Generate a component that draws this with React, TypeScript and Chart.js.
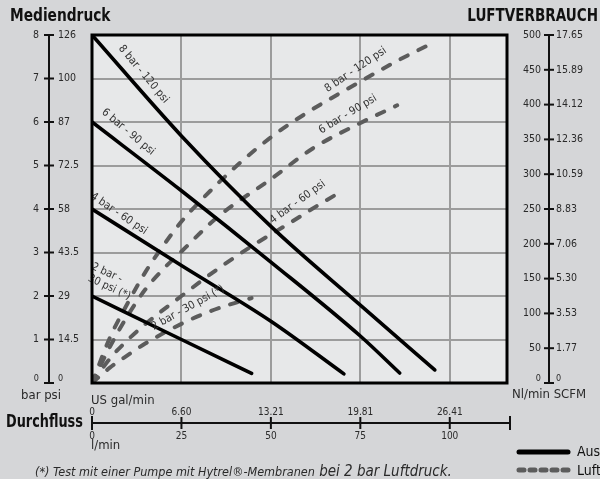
import React, { useEffect, useRef } from "react";
import { Chart, registerables } from "chart.js";
Chart.register(...registerables);

// ---------- data ----------
const FLOW_MAX = 116; // l/min at right edge of plot
const BAR_MAX = 8;
const AIR_MAX = 500;

const barTicks = [0, 1, 2, 3, 4, 5, 6, 7, 8];
const psiLabels = ["0", "14.5", "29", "43.5", "58", "72.5", "87", "100", "126"];
const nlminTicks = [0, 50, 100, 150, 200, 250, 300, 350, 400, 450, 500];
const scfmLabels = ["0", "1.77", "3.53", "5.30", "7.06", "8.83", "10.59", "12.36", "14.12", "15.89", "17.65"];
const lminTicks = [0, 25, 50, 75, 100];
const galLabels = ["0", "6.60", "13.21", "19.81", "26.41"];

// outlet pressure (bar) vs flow (l/min)
const p8Flow = [0, 25, 50, 75, 95.8];
const p8Bar = [8, 5.68, 3.6, 1.79, 0.3];
const p6Flow = [0, 25, 50, 75, 86];
const p6Bar = [6, 4.42, 2.78, 1.08, 0.23];
const p4Flow = [0, 25, 50, 70.4];
const p4Bar = [4, 2.7, 1.42, 0.21];
const p2Flow = [0, 25, 44.6];
const p2Bar = [2, 1.0, 0.22];

// air consumption (Nl/min) vs flow (l/min)
const a8Flow = [0, 5, 10, 15, 20, 25, 30, 40, 50, 60, 75, 85, 94.6];
const a8Air = [0, 65, 115, 160, 198, 232, 260, 310, 353, 388, 433, 462, 487];
const a6Flow = [0, 5, 10, 15, 20, 25, 35, 50, 62, 74, 85.3];
const a6Air = [0, 52, 97, 135, 164, 189, 238, 293, 338, 371, 399];
const a4Flow = [0, 5, 10, 15, 25, 36, 46, 55, 63.7, 70];
const a4Air = [0, 35, 62, 85, 125, 167, 201, 229, 257, 276];
const a2Flow = [0, 5, 10, 15, 25, 32, 38, 44.6];
const a2Air = [0, 22, 40, 57, 85, 101, 112, 122];

// curve labels: [text, flow, value, angle]
const pressureLabels: [string, number, number, number][] = [
  ["8 bar - 120 psi", 14.4, 7.1, 50],
  ["6 bar - 90 psi", 10.1, 5.77, 40],
  ["4 bar - 60 psi", 7.5, 3.89, 34],
  ["2 bar -", 4.2, 2.53, 25],
  ["30 psi (*)", 4.8, 2.2, 25],
];
const airLabels: [string, number, number, number][] = [
  ["8 bar - 120 psi", 73.7, 450, -34],
  ["6 bar - 90 psi", 71.5, 386, -31],
  ["4 bar - 60 psi", 57.5, 260, -36],
  ["2 bar - 30 psi (*)", 26.8, 108, -29],
];

// ---------- styles ----------
const BG = "#d5d6d8";
const PLOT_BG = "#e7e8e9";
const GRID = "#9c9c9c";
const DASH = "#5c5c5c";
const TXT = "#2a2a2a";
const FF = "'Liberation Sans Narrow', 'DejaVu Sans Condensed', 'Roboto', sans-serif";
const f = (size: number, weight = "normal", style = "normal") => `${style} ${weight} ${size}px ${FF}`;

const pts = (xs: number[], ys: number[]) => xs.map((x, i) => ({ x, y: ys[i] }));

const solid = (xs: number[], ys: number[]) => ({
  data: pts(xs, ys),
  yAxisID: "y",
  borderColor: "#000",
  borderWidth: 3.6,
  pointRadius: 0,
  fill: false,
  cubicInterpolationMode: "monotone" as const,
  borderCapStyle: "round" as const,
});
const dashed = (xs: number[], ys: number[]) => ({
  data: pts(xs, ys),
  yAxisID: "y2",
  borderColor: DASH,
  borderWidth: 4,
  borderDash: [8, 12],
  borderCapStyle: "round" as const,
  pointRadius: 0,
  fill: false,
  cubicInterpolationMode: "monotone" as const,
});

const condensed = (ctx: any, t: string, x: number, y: number, sx: number) => {
  ctx.save();
  ctx.translate(x, y);
  ctx.scale(sx, 1);
  ctx.fillText(t, 0, 0);
  ctx.restore();
};

const decor = {
  id: "decor",
  beforeDraw(chart: any) {
    const { ctx, chartArea: a } = chart;
    ctx.save();
    ctx.fillStyle = BG;
    ctx.fillRect(0, 0, chart.width, chart.height);
    ctx.fillStyle = PLOT_BG;
    ctx.fillRect(a.left, a.top, a.right - a.left, a.bottom - a.top);
    ctx.restore();
  },
  afterDatasetsDraw(chart: any) {
    const { ctx, chartArea: a, scales } = chart;
    const xs = scales.x, ys = scales.y, y2 = scales.y2;
    ctx.save();
    ctx.fillStyle = "#333";
    ctx.font = f(11);
    ctx.textAlign = "center";
    ctx.textBaseline = "middle";
    const draw = (t: string, px: number, py: number, ang: number) => {
      ctx.save();
      ctx.translate(px, py);
      ctx.rotate((ang * Math.PI) / 180);
      ctx.fillText(t, 0, 0);
      ctx.restore();
    };
    pressureLabels.forEach(([t, x, v, ang]) => draw(t, xs.getPixelForValue(x), ys.getPixelForValue(v), ang));
    airLabels.forEach(([t, x, v, ang]) => draw(t, xs.getPixelForValue(x), y2.getPixelForValue(v), ang));
    // frame
    ctx.strokeStyle = "#000";
    ctx.lineWidth = 3;
    ctx.strokeRect(a.left, a.top, a.right - a.left, a.bottom - a.top);
    ctx.restore();
  },
  afterDraw(chart: any) {
    const { ctx, chartArea: a, scales } = chart;
    const xs = scales.x, ys = scales.y, y2 = scales.y2;
    ctx.save();
    ctx.strokeStyle = "#111";
    ctx.lineWidth = 2;

    // titles
    ctx.fillStyle = "#111";
    ctx.font = f(17, "bold");
    ctx.textBaseline = "middle";
    ctx.textAlign = "left";
    condensed(ctx, "Mediendruck", 10, 17, 0.9);
    ctx.textAlign = "right";
    condensed(ctx, "LUFTVERBRAUCH", 598, 17, 0.885);

    // left axis
    const lx = 49;
    ctx.beginPath();
    ctx.moveTo(lx, ys.getPixelForValue(BAR_MAX));
    ctx.lineTo(lx, ys.getPixelForValue(0));
    ctx.stroke();
    ctx.fillStyle = TXT;
    barTicks.forEach((b, i) => {
      const py = ys.getPixelForValue(b);
      ctx.beginPath();
      ctx.moveTo(lx - 5, py);
      ctx.lineTo(lx + 5, py);
      ctx.stroke();
      ctx.font = f(b === 0 ? 9 : 10.5);
      ctx.textAlign = "right";
      ctx.fillText(String(b), lx - 10, py - (b === 0 ? 4 : 0));
      ctx.textAlign = "left";
      ctx.fillText(psiLabels[i], lx + 9, py - (b === 0 ? 4 : 0));
    });
    ctx.font = f(13);
    ctx.textAlign = "center";
    ctx.fillText("bar psi", 41, a.bottom + 13);

    // right axis
    const rx = 549;
    ctx.beginPath();
    ctx.moveTo(rx, y2.getPixelForValue(AIR_MAX));
    ctx.lineTo(rx, y2.getPixelForValue(0));
    ctx.stroke();
    nlminTicks.forEach((v, i) => {
      const py = y2.getPixelForValue(v);
      ctx.beginPath();
      ctx.moveTo(rx - 5, py);
      ctx.lineTo(rx + 5, py);
      ctx.stroke();
      ctx.font = f(v === 0 ? 9 : 10.5);
      ctx.textAlign = "right";
      ctx.fillText(String(v), rx - 8, py - (v === 0 ? 4 : 0));
      ctx.textAlign = "left";
      ctx.fillText(scfmLabels[i], rx + 7, py - (v === 0 ? 4 : 0));
    });
    ctx.font = f(13);
    ctx.textAlign = "center";
    ctx.fillText("Nl/min SCFM", rx, a.bottom + 12);

    // bottom axis
    const by = a.bottom + 40;
    const x0 = xs.getPixelForValue(0);
    const xEnd = a.right + 3;
    ctx.font = f(13);
    ctx.textAlign = "left";
    ctx.fillText("US gal/min", x0 - 1, a.bottom + 18);
    ctx.beginPath();
    ctx.moveTo(x0, by);
    ctx.lineTo(xEnd, by);
    ctx.stroke();
    ctx.beginPath();
    ctx.moveTo(xEnd, by - 7);
    ctx.lineTo(xEnd, by + 7);
    ctx.moveTo(x0, by - 7);
    ctx.lineTo(x0, by + 7);
    ctx.stroke();
    ctx.font = f(10);
    ctx.textAlign = "center";
    lminTicks.forEach((v, i) => {
      const px = xs.getPixelForValue(v);
      ctx.beginPath();
      ctx.moveTo(px, by - 6);
      ctx.lineTo(px, by + 6);
      ctx.stroke();
      ctx.fillText(galLabels[i], px, by - 11);
      ctx.fillText(String(v), px, by + 13);
    });
    ctx.font = f(13);
    ctx.textAlign = "left";
    ctx.fillText("l/min", x0 - 1, by + 23);
    ctx.fillStyle = "#111";
    ctx.font = f(17, "bold");
    condensed(ctx, "Durchfluss", 6, by, 0.84);

    // footnote
    ctx.fillStyle = TXT;
    ctx.textBaseline = "alphabetic";
    ctx.font = f(12.5, "normal", "italic");
    const part1 = "(*) Test mit einer Pumpe mit Hytrel\u00AE-Membranen";
    ctx.fillText(part1, 35, 476);
    const w1 = ctx.measureText(part1).width;
    ctx.font = f(15, "normal", "italic");
    ctx.fillText(" bei 2 bar Luftdruck.", 35 + w1, 476);

    // legend
    ctx.textBaseline = "middle";
    ctx.lineCap = "round";
    ctx.strokeStyle = "#000";
    ctx.lineWidth = 5;
    ctx.beginPath();
    ctx.moveTo(519, 452);
    ctx.lineTo(568, 452);
    ctx.stroke();
    ctx.strokeStyle = DASH;
    ctx.setLineDash([5, 6]);
    ctx.beginPath();
    ctx.moveTo(519, 470);
    ctx.lineTo(568, 470);
    ctx.stroke();
    ctx.setLineDash([]);
    ctx.fillStyle = "#111";
    ctx.font = f(14);
    ctx.textAlign = "left";
    ctx.fillText("Ausgangsdruck", 577, 452);
    ctx.fillText("Luftverbrauch", 577, 471);
    ctx.restore();
  },
};

export default function App() {
  const ref = useRef<HTMLCanvasElement>(null);
  useEffect(() => {
    document.body.style.margin = "0";
    document.body.style.background = BG;
    const chart = new Chart(ref.current as HTMLCanvasElement, {
      type: "line",
      data: {
        datasets: [
          solid(p8Flow, p8Bar),
          solid(p6Flow, p6Bar),
          solid(p4Flow, p4Bar),
          solid(p2Flow, p2Bar),
          dashed(a8Flow, a8Air),
          dashed(a6Flow, a6Air),
          dashed(a4Flow, a4Air),
          dashed(a2Flow, a2Air),
        ] as any,
      },
      options: {
        responsive: false,
        animation: false,
        devicePixelRatio: 1,
        layout: { padding: { left: 92, top: 35, right: 93, bottom: 96 } },
        plugins: { legend: { display: false }, tooltip: { enabled: false } },
        scales: {
          x: {
            type: "linear",
            min: 0,
            max: FLOW_MAX,
            ticks: { display: false, stepSize: 25 },
            grid: { color: GRID, lineWidth: 2, drawTicks: false },
            border: { display: false },
          },
          y: {
            type: "linear",
            min: 0,
            max: BAR_MAX,
            ticks: { display: false, stepSize: 1 },
            grid: { color: GRID, lineWidth: 2, drawTicks: false },
            border: { display: false },
          },
          y2: { type: "linear", display: false, min: 0, max: AIR_MAX },
        },
      },
      plugins: [decor],
    });
    return () => chart.destroy();
  }, []);
  return <canvas ref={ref} width={600} height={479} style={{ display: "block", width: 600, height: 479 }} />;
}
